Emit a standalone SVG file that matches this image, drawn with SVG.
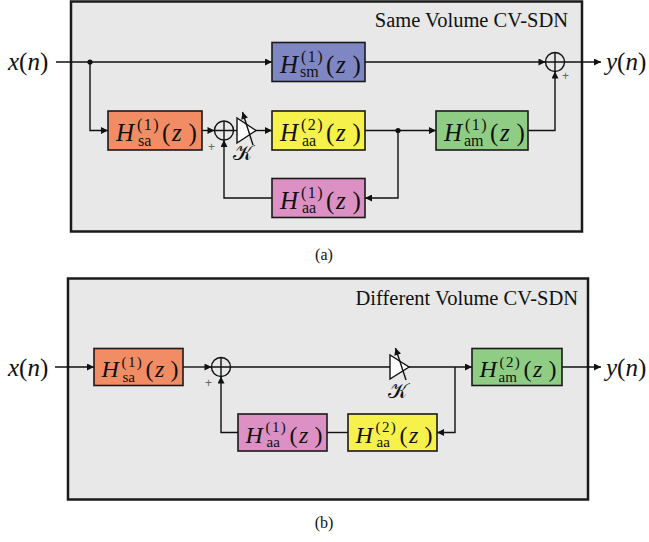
<svg xmlns="http://www.w3.org/2000/svg" width="649" height="542" viewBox="0 0 649 542">
<defs>
<marker id="ar" viewBox="0 0 10 10" refX="10" refY="5" markerWidth="8" markerHeight="7" markerUnits="userSpaceOnUse" orient="auto"><path d="M0,0 L10,5 L0,10 z" fill="#111"/></marker>
<style>
.panel{fill:#e8e8e8;stroke:#1a1a1a;stroke-width:2.5}
.box{stroke:#1a1a1a;stroke-width:1.6}
.w{fill:none;stroke:#111;stroke-width:1.4}
.wa{fill:none;stroke:#111;stroke-width:1.4;marker-end:url(#ar)}
.m{font-family:"Liberation Serif","Times New Roman",Times,"DejaVu Serif",serif;fill:#111;font-size:25px}
.mb{font-size:24px}
.it{font-style:italic}
.sm{font-size:16px}
.smb{font-size:15px}
.ttl{font-family:"Liberation Serif","Times New Roman",Times,"DejaVu Serif",serif;font-size:20.5px;fill:#111;text-anchor:end}
.cap{font-family:"Liberation Serif","Times New Roman",Times,"DejaVu Serif",serif;font-size:16px;fill:#111;text-anchor:middle}
.plus{font-family:"Liberation Sans",sans-serif;font-size:12px;fill:#666}
.sum{fill:none;stroke:#111;stroke-width:1.4}
.tri{fill:#fff;stroke:#111;stroke-width:1.4}
.k{font-family:"DejaVu Serif","DejaVu Sans",serif;font-size:21px;fill:#111}
</style>
</defs>

<!-- Panel (a) -->
<rect class="panel" x="71" y="1.5" width="511" height="230"/>
<text class="ttl" x="568" y="27">Same Volume CV-SDN</text>
<text class="m" x="8" y="70"><tspan class="it">x</tspan>(<tspan class="it">n</tspan>)</text>
<text class="m" x="606" y="70"><tspan class="it">y</tspan>(<tspan class="it">n</tspan>)</text>

<g id="connectors-a">
<path class="wa" d="M56,62 H272"/>
<circle cx="90" cy="62" r="2.6" fill="#111"/>
<path class="wa" d="M90,62 V130.5 H108"/>
<path class="wa" d="M202,130.5 H214.5"/>
<path class="w" d="M233.5,130.5 H237"/>
<path class="wa" d="M256,130.5 H272"/>
<path class="wa" d="M365,130.5 H436"/>
<circle cx="398" cy="130.5" r="2.6" fill="#111"/>
<path class="wa" d="M528,130.5 H555 V71.5"/>
<path class="wa" d="M365,62 H545.5"/>
<path class="wa" d="M564.5,62 H601"/>
<path class="wa" d="M398,130.5 V198 H365"/>
<path class="wa" d="M272,198 H224 V140"/>
</g>

<g id="sum-a1"><circle class="sum" cx="224" cy="130.5" r="9.5"/><path class="w" d="M214.5,130.5 H233.5 M224,121 V140"/></g>
<text class="plus" x="208" y="151">+</text>
<g id="sum-a2"><circle class="sum" cx="555" cy="62" r="9.5"/><path class="w" d="M545.5,62 H564.5 M555,52.5 V71.5"/></g>
<text class="plus" x="562" y="80">+</text>

<g id="gain-a">
<polygon class="tri" points="237,118 237,143 256,130.5"/>
<path class="wa" d="M253,145 L242.5,112"/>
<text class="k" x="233" y="160">𝒦</text>
</g>

<g id="Hsm1" transform="translate(272,42.5)">
<rect class="box" x="0" y="0" width="93" height="39" fill="#7f86c4"/>
<text class="m"><tspan class="it" x="8" y="30">H</tspan><tspan class="sm" x="29" y="19" letter-spacing="1.5">(1)</tspan><tspan class="sm" x="28" y="34.5">sm</tspan><tspan x="54" y="30">(</tspan><tspan class="it" x="64" y="30">z</tspan><tspan x="80.5" y="30">)</tspan></text>
</g>
<g id="Hsa1a" transform="translate(108,111)">
<rect class="box" x="0" y="0" width="94" height="39" fill="#f28c65"/>
<text class="m"><tspan class="it" x="8" y="30">H</tspan><tspan class="sm" x="29" y="19" letter-spacing="1.5">(1)</tspan><tspan class="sm" x="30" y="34.5">sa</tspan><tspan x="54" y="30">(</tspan><tspan class="it" x="64" y="30">z</tspan><tspan x="80.5" y="30">)</tspan></text>
</g>
<g id="Haa2a" transform="translate(272,111)">
<rect class="box" x="0" y="0" width="93" height="39" fill="#f7f14b"/>
<text class="m"><tspan class="it" x="8" y="30">H</tspan><tspan class="sm" x="29" y="19" letter-spacing="1.5">(2)</tspan><tspan class="sm" x="30" y="34.5">aa</tspan><tspan x="54" y="30">(</tspan><tspan class="it" x="64" y="30">z</tspan><tspan x="80.5" y="30">)</tspan></text>
</g>
<g id="Ham1" transform="translate(436,111)">
<rect class="box" x="0" y="0" width="92" height="39" fill="#8fcd84"/>
<text class="m"><tspan class="it" x="8" y="30">H</tspan><tspan class="sm" x="29" y="19" letter-spacing="1.5">(1)</tspan><tspan class="sm" x="28" y="34.5">am</tspan><tspan x="54" y="30">(</tspan><tspan class="it" x="64" y="30">z</tspan><tspan x="80.5" y="30">)</tspan></text>
</g>
<g id="Haa1a" transform="translate(272,178.5)">
<rect class="box" x="0" y="0" width="93" height="39" fill="#dc90c4"/>
<text class="m"><tspan class="it" x="8" y="30">H</tspan><tspan class="sm" x="29" y="19" letter-spacing="1.5">(1)</tspan><tspan class="sm" x="30" y="34.5">aa</tspan><tspan x="54" y="30">(</tspan><tspan class="it" x="64" y="30">z</tspan><tspan x="80.5" y="30">)</tspan></text>
</g>

<text class="cap" x="324" y="260">(a)</text>

<!-- Panel (b) -->
<rect class="panel" x="68" y="278.5" width="520" height="221"/>
<text class="ttl" x="578" y="305">Different Volume CV-SDN</text>
<text class="m" x="8" y="376"><tspan class="it">x</tspan>(<tspan class="it">n</tspan>)</text>
<text class="m" x="606" y="376"><tspan class="it">y</tspan>(<tspan class="it">n</tspan>)</text>

<g id="connectors-b">
<path class="wa" d="M55,367 H94"/>
<path class="wa" d="M183,367 H211.5"/>
<path class="w" d="M230.5,367 H390"/>
<path class="wa" d="M409,367 H472"/>
<path class="wa" d="M562,367 H601"/>
<path class="wa" d="M455,367 V432.5 H437"/>
<path class="w" d="M348,432.5 H327"/>
<path class="wa" d="M238,432.5 H221 V376.5"/>
</g>

<g id="sum-b"><circle class="sum" cx="221" cy="367" r="9.5"/><path class="w" d="M211.5,367 H230.5 M221,357.5 V376.5"/></g>
<text class="plus" x="205" y="387">+</text>

<g id="gain-b">
<polygon class="tri" points="390,355 390,379 409,367"/>
<path class="wa" d="M406,380 L395.5,348"/>
<text class="k" x="388" y="398">𝒦</text>
</g>

<g id="Hsa1b" transform="translate(94,348.5)">
<rect class="box" x="0" y="0" width="89" height="37" fill="#f28c65"/>
<text class="m mb"><tspan class="it" x="7.5" y="28.5">H</tspan><tspan class="smb" x="27.5" y="18" letter-spacing="1.4">(1)</tspan><tspan class="smb" x="28.5" y="33">sa</tspan><tspan x="51.5" y="28.5">(</tspan><tspan class="it" x="61" y="28.5">z</tspan><tspan x="76.5" y="28.5">)</tspan></text>
</g>
<g id="Ham2" transform="translate(472,348.5)">
<rect class="box" x="0" y="0" width="90" height="37" fill="#8fcd84"/>
<text class="m mb"><tspan class="it" x="7.5" y="28.5">H</tspan><tspan class="smb" x="27.5" y="18" letter-spacing="1.4">(2)</tspan><tspan class="smb" x="26.5" y="33">am</tspan><tspan x="51.5" y="28.5">(</tspan><tspan class="it" x="61" y="28.5">z</tspan><tspan x="76.5" y="28.5">)</tspan></text>
</g>
<g id="Haa1b" transform="translate(238,414)">
<rect class="box" x="0" y="0" width="89" height="37" fill="#dc90c4"/>
<text class="m mb"><tspan class="it" x="7.5" y="28.5">H</tspan><tspan class="smb" x="27.5" y="18" letter-spacing="1.4">(1)</tspan><tspan class="smb" x="28.5" y="33">aa</tspan><tspan x="51.5" y="28.5">(</tspan><tspan class="it" x="61" y="28.5">z</tspan><tspan x="76.5" y="28.5">)</tspan></text>
</g>
<g id="Haa2b" transform="translate(348,414)">
<rect class="box" x="0" y="0" width="89" height="37" fill="#f7f14b"/>
<text class="m mb"><tspan class="it" x="7.5" y="28.5">H</tspan><tspan class="smb" x="27.5" y="18" letter-spacing="1.4">(2)</tspan><tspan class="smb" x="28.5" y="33">aa</tspan><tspan x="51.5" y="28.5">(</tspan><tspan class="it" x="61" y="28.5">z</tspan><tspan x="76.5" y="28.5">)</tspan></text>
</g>

<text class="cap" x="324" y="528">(b)</text>
</svg>
